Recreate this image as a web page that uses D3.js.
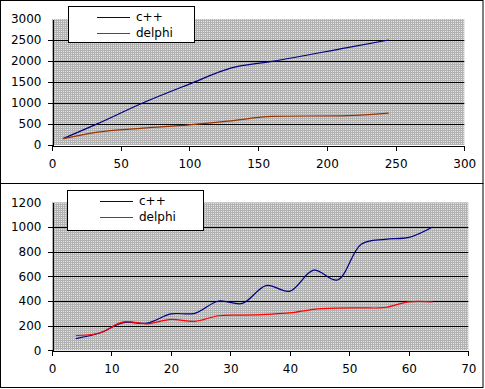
<!DOCTYPE html>
<html>
<head>
<meta charset="utf-8">
<script src="https://cdn.jsdelivr.net/npm/d3@7"></script>
<style>
  body { margin: 0; background: #fff; }
  svg { display: block; font-family: "DejaVu Sans", sans-serif; font-size: 12px; }
</style>
</head>
<body>
<div id="chart"></div>
<script>
// top chart
const topX = [8, 32, 66, 100, 130, 160, 215, 245];
const topCpp = [150, 490, 1000, 1450, 1830, 1990, 2320, 2500];
const topDelphi = [150, 300, 400, 480, 575, 680, 700, 760];
const topXTicks = [0, 50, 100, 150, 200, 250, 300];
const topYTicks = [0, 500, 1000, 1500, 2000, 2500, 3000];

// bottom chart
const botX = [4, 8, 12, 16, 20, 24, 28, 32, 36, 40, 44, 48, 52, 56, 60, 64];
const botCpp = [95, 140, 225, 220, 295, 300, 400, 380, 525, 480, 650, 570, 860, 900, 915, 1000];
const botDelphi = [120, 140, 230, 215, 250, 235, 280, 285, 292, 303, 332, 342, 344, 347, 393, 393];
const botXTicks = [0, 10, 20, 30, 40, 50, 60, 70];
const botYTicks = [0, 200, 400, 600, 800, 1000, 1200];

const seriesNames = ["c++", "delphi"];

const svg = d3.select("#chart").append("svg")
  .attr("width", 485)
  .attr("height", 389);

// dotted grey plot background
const pat = svg.append("defs").append("pattern")
  .attr("id", "dots")
  .attr("width", 2).attr("height", 2)
  .attr("patternUnits", "userSpaceOnUse");
pat.append("rect").attr("width", 2).attr("height", 2).attr("fill", "#b2b2b2");
pat.append("rect").attr("x", 1).attr("y", 1).attr("width", 1).attr("height", 1).attr("fill", "#e4e4e4");

function drawChart(cfg) {
  const g = svg.append("g");

  // frame
  g.append("rect")
    .attr("x", 0.5).attr("y", cfg.frame[0] + 0.5)
    .attr("width", 482.5).attr("height", cfg.frame[1] - cfg.frame[0])
    .attr("fill", "none").attr("stroke", "#000");

  const x = d3.scaleLinear().domain(cfg.xDomain).range([52, cfg.right]);
  const y = d3.scaleLinear().domain(cfg.yDomain).range([cfg.bottom, cfg.top]);

  g.append("rect")
    .attr("x", x(cfg.xDomain[0])).attr("y", y(cfg.yDomain[1]))
    .attr("width", x(cfg.xDomain[1]) - x(cfg.xDomain[0]))
    .attr("height", y(cfg.yDomain[0]) - y(cfg.yDomain[1]))
    .attr("fill", "url(#dots)");

  // gridlines (not at top)
  g.selectAll(".grid")
    .data(cfg.yTicks.slice(1, -1))
    .enter().append("line")
    .attr("x1", x(cfg.xDomain[0])).attr("x2", x(cfg.xDomain[1]))
    .attr("y1", d => Math.round(y(d)) + 0.5).attr("y2", d => Math.round(y(d)) + 0.5)
    .attr("stroke", "#000");

  const fmt = d3.format("d");
  const xAxis = g.append("g")
    .attr("transform", `translate(0,${Math.round(cfg.bottom) + 0.5})`)
    .call(d3.axisBottom(x).tickValues(cfg.xTicks).tickFormat(fmt).tickSize(5).tickPadding(9).tickSizeOuter(0));
  const yAxis = g.append("g")
    .attr("transform", `translate(${Math.round(x(cfg.xDomain[0])) + 0.5},0)`)
    .call(d3.axisLeft(y).tickValues(cfg.yTicks).tickFormat(fmt).tickSize(5).tickPadding(6).tickSizeOuter(0));
  [xAxis, yAxis].forEach(a => {
    a.attr("font-family", null).attr("font-size", null);
    a.selectAll("path, line").attr("stroke", "#000").attr("shape-rendering", "crispEdges");
    a.selectAll("text").attr("fill", "#000");
  });
  yAxis.select(".tick:last-of-type line").remove();

  const line = d3.line()
    .x((d, i) => x(cfg.xs[i]))
    .y(d => y(d))
    .curve(cfg.curve);

  cfg.series.forEach((s, k) => {
    g.append("path")
      .datum(s)
      .attr("d", line)
      .attr("fill", "none")
      .attr("stroke", cfg.colors[k])
      .attr("stroke-width", 1.2);
  });

  // legend
  const L = cfg.legend;
  g.append("rect")
    .attr("x", L.x + 0.5).attr("y", L.y + 0.5)
    .attr("width", L.w).attr("height", L.h)
    .attr("fill", "#fff").attr("stroke", "#000");
  seriesNames.forEach((name, k) => {
    const ly = L.y + L.row0 + k * L.step;
    g.append("line")
      .attr("x1", L.x + L.lx).attr("x2", L.x + L.lx + 33)
      .attr("y1", ly + 0.5).attr("y2", ly + 0.5)
      .attr("stroke", cfg.colors[k]).attr("stroke-width", 1.2);
    g.append("text")
      .attr("x", L.x + L.tx).attr("y", ly)
      .attr("dy", "0.32em")
      .text(name);
  });
}

drawChart({
  frame: [0, 183],
  xDomain: [0, 300], yDomain: [0, 3000],
  right: 464.3, top: 19, bottom: 145,
  xTicks: topXTicks, yTicks: topYTicks,
  xs: topX, series: [topCpp, topDelphi],
  colors: ["#000080", "#993300"],
  curve: d3.curveMonotoneX,
  legend: { x: 68, y: 6, w: 126, h: 36, lx: 29, tx: 68, row0: 11, step: 16 }
});

drawChart({
  frame: [183, 387],
  xDomain: [0, 70], yDomain: [0, 1200],
  right: 468.3, top: 202.3, bottom: 350.3,
  xTicks: botXTicks, yTicks: botYTicks,
  xs: botX, series: [botCpp, botDelphi],
  colors: ["#000080", "#ff0000"],
  curve: d3.curveCatmullRom.alpha(0.5),
  legend: { x: 67, y: 190, w: 136, h: 40, lx: 33, tx: 72, row0: 11, step: 16 }
});
</script>
</body>
</html>
